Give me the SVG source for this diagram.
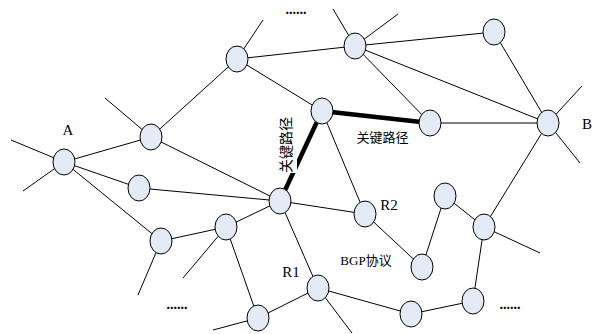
<svg xmlns="http://www.w3.org/2000/svg" width="595" height="334" viewBox="0 0 595 334">
<style>
.e{stroke:#000;stroke-width:1;fill:none}
.k{stroke:#000;stroke-width:4.5;fill:none}
.n{fill:#e4ebf7;stroke:#000;stroke-width:1}
.t{font-family:"Liberation Serif","Noto Sans CJK SC",serif;font-size:13px;fill:#000}
.l{font-family:"Liberation Serif",serif;font-size:15px;fill:#000}
.d{font-family:"Liberation Serif",serif;font-size:14px;font-weight:bold;fill:#000}
</style>
<rect width="595" height="334" fill="#fff"/>
<g id="connectors">
<line class="e" x1="64" y1="162" x2="151" y2="137"/>
<line class="e" x1="64" y1="162" x2="139" y2="188"/>
<line class="e" x1="64" y1="162" x2="161" y2="241"/>
<line class="e" x1="151" y1="137" x2="237" y2="59"/>
<line class="e" x1="151" y1="137" x2="280" y2="201"/>
<line class="e" x1="237" y1="59" x2="355" y2="46"/>
<line class="e" x1="237" y1="59" x2="322" y2="111"/>
<line class="e" x1="355" y1="46" x2="494" y2="32"/>
<line class="e" x1="355" y1="46" x2="548" y2="123"/>
<line class="e" x1="355" y1="46" x2="430" y2="123"/>
<line class="e" x1="494" y1="32" x2="548" y2="123"/>
<line class="e" x1="322" y1="111" x2="365" y2="214"/>
<line class="e" x1="430" y1="123" x2="548" y2="123"/>
<line class="e" x1="139" y1="188" x2="280" y2="201"/>
<line class="e" x1="161" y1="241" x2="226" y2="227"/>
<line class="e" x1="226" y1="227" x2="280" y2="201"/>
<line class="e" x1="226" y1="227" x2="258" y2="318"/>
<line class="e" x1="280" y1="201" x2="365" y2="214"/>
<line class="e" x1="280" y1="201" x2="318" y2="288"/>
<line class="e" x1="258" y1="318" x2="318" y2="288"/>
<line class="e" x1="318" y1="288" x2="411" y2="314"/>
<line class="e" x1="411" y1="314" x2="473" y2="301"/>
<line class="e" x1="473" y1="301" x2="484" y2="227"/>
<line class="e" x1="484" y1="227" x2="548" y2="123"/>
<line class="e" x1="484" y1="227" x2="445" y2="196"/>
<line class="e" x1="445" y1="196" x2="422" y2="267"/>
<line class="e" x1="422" y1="267" x2="365" y2="214"/>
<line class="e" x1="64" y1="162" x2="11" y2="140"/>
<line class="e" x1="64" y1="162" x2="23" y2="191"/>
<line class="e" x1="151" y1="137" x2="105" y2="98"/>
<line class="e" x1="237" y1="59" x2="263" y2="20"/>
<line class="e" x1="355" y1="46" x2="333" y2="9"/>
<line class="e" x1="355" y1="46" x2="398" y2="14"/>
<line class="e" x1="548" y1="123" x2="582" y2="86"/>
<line class="e" x1="548" y1="123" x2="580" y2="163"/>
<line class="e" x1="161" y1="241" x2="138" y2="295"/>
<line class="e" x1="226" y1="227" x2="183" y2="278"/>
<line class="e" x1="258" y1="318" x2="213" y2="330"/>
<line class="e" x1="318" y1="288" x2="352" y2="333"/>
<line class="e" x1="484" y1="227" x2="540" y2="253"/>
<line class="k" x1="322" y1="111" x2="430" y2="123"/>
<line class="k" x1="322" y1="111" x2="280" y2="201"/>
</g>
<g id="n1"><ellipse class="n" cx="64" cy="162" rx="11" ry="13"/></g>
<g id="n2"><ellipse class="n" cx="151" cy="137" rx="11" ry="13"/></g>
<g id="n3"><ellipse class="n" cx="237" cy="59" rx="11" ry="13"/></g>
<g id="n4"><ellipse class="n" cx="355" cy="46" rx="11" ry="13"/></g>
<g id="n5"><ellipse class="n" cx="494" cy="32" rx="11" ry="13"/></g>
<g id="n6"><ellipse class="n" cx="322" cy="111" rx="11" ry="13"/></g>
<g id="n7"><ellipse class="n" cx="430" cy="123" rx="11" ry="13"/></g>
<g id="n8"><ellipse class="n" cx="548" cy="123" rx="11" ry="13"/></g>
<g id="n9"><ellipse class="n" cx="139" cy="188" rx="11" ry="13"/></g>
<g id="n10"><ellipse class="n" cx="280" cy="201" rx="11" ry="13"/></g>
<g id="n11"><ellipse class="n" cx="161" cy="241" rx="11" ry="13"/></g>
<g id="n12"><ellipse class="n" cx="226" cy="227" rx="11" ry="13"/></g>
<g id="n13"><ellipse class="n" cx="365" cy="214" rx="11" ry="13"/></g>
<g id="n14"><ellipse class="n" cx="258" cy="318" rx="11" ry="13"/></g>
<g id="n15"><ellipse class="n" cx="318" cy="288" rx="11" ry="13"/></g>
<g id="n16"><ellipse class="n" cx="411" cy="314" rx="11" ry="13"/></g>
<g id="n17"><ellipse class="n" cx="473" cy="301" rx="11" ry="13"/></g>
<g id="n18"><ellipse class="n" cx="422" cy="267" rx="11" ry="13"/></g>
<g id="n19"><ellipse class="n" cx="445" cy="196" rx="11" ry="13"/></g>
<g id="n20"><ellipse class="n" cx="484" cy="227" rx="11" ry="13"/></g>
<g id="labels">
<text class="l" x="68" y="135" text-anchor="middle">A</text>
<text class="l" x="587" y="129" text-anchor="middle">B</text>
<text class="l" x="291" y="277" text-anchor="middle">R1</text>
<text class="l" x="389" y="210" text-anchor="middle">R2</text>
<text class="t" x="366" y="265" text-anchor="middle">BGP协议</text>
<rect x="356" y="128" width="53" height="18" fill="#fff"/>
<text class="t" x="382.5" y="142" text-anchor="middle">关键路径</text>
<rect x="275" y="117" width="22" height="56" fill="#fff"/>
<text class="t" transform="translate(291,145) rotate(-90)" text-anchor="middle" style="font-size:14px">关键路径</text>
<text class="d" x="296" y="14" text-anchor="middle">......</text>
<text class="d" x="177" y="309" text-anchor="middle">......</text>
<text class="d" x="510" y="309" text-anchor="middle">......</text>
</g>
</svg>
